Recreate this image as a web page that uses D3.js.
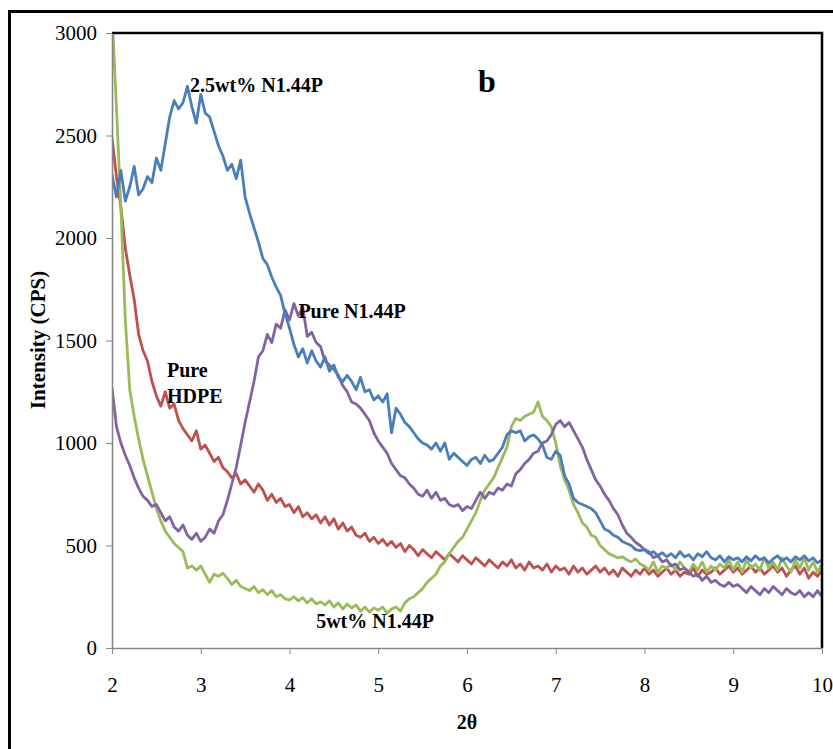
<!DOCTYPE html>
<html>
<head>
<meta charset="utf-8">
<script src="https://cdn.jsdelivr.net/npm/d3@7"></script>
<style>
  body { margin: 0; background: #fff; }
  svg { display: block; }
  text { font-family: "Liberation Serif", "Times New Roman", serif; fill: #000; }
</style>
</head>
<body>
<div id="chart"></div>
<script>
// 2-theta grid, 0.05 step
const twoTheta = d3.range(0, 161).map(i => +(2 + i * 0.05).toFixed(2));

const xTicks = [2, 3, 4, 5, 6, 7, 8, 9, 10];
const yTicks = [0, 500, 1000, 1500, 2000, 2500, 3000];

// 2.5wt% N1.44P
const blue = [
  2310, 2200, 2330, 2180, 2250, 2350, 2210, 2240, 2300, 2270,
  2390, 2330, 2460, 2590, 2670, 2630, 2660, 2740, 2640, 2560,
  2700, 2610, 2590, 2520, 2450, 2400, 2330, 2360, 2290, 2380,
  2200, 2120, 2050, 1980, 1900, 1870, 1810, 1760, 1720, 1630,
  1560, 1480, 1420, 1460, 1390, 1450, 1400, 1370, 1420, 1350,
  1380, 1320, 1300, 1330, 1300, 1260, 1320, 1250, 1260, 1210,
  1230, 1200, 1240, 1050, 1170, 1140, 1100, 1080, 1050, 1020,
  1000, 990, 970, 1000, 960, 1000, 920, 950, 930, 910,
  890, 920, 930, 900, 940, 910, 920, 950, 980, 1040,
  1060, 1050, 1060, 1010, 1030, 1040, 1020, 990, 930, 920,
  960, 940, 840, 800, 730, 710, 700, 690, 680, 660,
  620, 580, 570, 550, 540, 520, 510, 500, 480, 475,
  480, 460, 470, 450, 465, 445, 460, 440, 470, 445,
  455, 430, 460, 445, 470, 440, 430, 450, 420, 445,
  430, 440, 420, 445, 425, 450, 430, 440, 415, 435,
  450, 425, 440, 420, 445, 430, 450, 425, 440, 415,
  430
];

// Pure HDPE
const red = [
  2490, 2300, 2150, 1950, 1820, 1700, 1530, 1450, 1400, 1300,
  1230, 1180, 1250, 1170, 1190, 1110, 1070, 1040, 1010, 1060,
  970, 990, 950, 910, 930, 880, 860, 830, 850, 800,
  820, 790, 760, 800, 770, 720, 750, 710, 730, 690,
  700, 660, 690, 640, 660, 630, 650, 610, 640, 600,
  630, 580, 610, 570, 590, 550, 540, 560, 520, 540,
  510, 530, 500, 520, 490, 510, 470, 500, 480, 450,
  480, 460, 440, 470, 450, 430, 460, 440, 420, 450,
  430, 410, 440, 420, 400, 430, 410, 390, 420, 400,
  430, 390, 410, 380, 420, 390, 400, 380, 410, 370,
  400, 380, 390, 360, 400, 370, 390, 360, 380, 400,
  370, 390, 360, 380, 350, 390, 370, 350, 380, 360,
  390, 360, 380, 350, 370, 390, 360, 380, 350, 370,
  360, 390, 350, 380, 360, 370, 390, 360, 380, 400,
  370, 390, 360, 380, 400, 370, 390, 360, 380, 400,
  370, 390, 350, 380, 400, 360, 390, 340, 370, 350,
  380
];

// 5wt% N1.44P
const green = [
  3100, 2640, 2150, 1600, 1260, 1130, 1020, 920, 840, 760,
  680, 620, 570, 540, 510, 490, 470, 390, 400, 380,
  400, 360, 320, 360, 350, 365, 340, 310, 330, 300,
  290, 280, 300, 270, 285, 260, 280, 250, 260, 240,
  235, 250, 230, 245, 220, 240, 215, 225, 210, 230,
  200, 220, 190, 215, 195, 210, 180, 200, 175, 195,
  185, 200, 170, 190, 200, 180, 220, 240, 250, 270,
  290, 320, 340, 360, 400, 420, 460, 490, 520, 540,
  580, 620, 660, 720, 770, 800, 830, 880, 930, 980,
  1080, 1120, 1110, 1130, 1140, 1150, 1200, 1130, 1110, 1080,
  1000, 890, 820, 770, 700, 660, 610, 590, 550, 540,
  500, 480, 460, 450, 440, 445, 430, 420, 435, 410,
  400, 380, 420, 370, 400, 390, 410, 380, 420, 390,
  370, 410, 380, 420, 370, 400, 380, 410, 390, 430,
  380, 420, 370, 430, 390, 410, 380, 440, 390, 420,
  380, 440, 400, 370, 430, 390, 440, 380, 420, 370,
  410
];

// Pure N1.44P
const purple = [
  1270, 1080, 1000, 940, 890, 830, 780, 740, 720, 690,
  700, 660, 620, 640, 590, 570, 600, 550, 530, 560,
  520, 540, 580, 560, 620, 650, 720, 800, 880, 990,
  1100, 1200, 1300, 1420, 1450, 1530, 1490, 1580, 1560, 1650,
  1600, 1680, 1620, 1660, 1520, 1540, 1490, 1470, 1400, 1380,
  1360, 1330, 1280, 1250, 1200, 1190, 1170, 1140, 1110, 1050,
  1010, 980, 950, 900, 870, 840, 830, 800, 780, 750,
  740, 770, 730, 760, 720, 730, 700, 690, 700, 670,
  690, 680, 720, 760, 730, 760, 750, 780, 770, 800,
  790, 850, 870, 900, 920, 950, 960, 1000, 1010, 1040,
  1090, 1110, 1080, 1100, 1060, 1020, 980, 920, 870, 820,
  790, 750, 720, 680, 650, 600, 560, 540, 515, 500,
  480, 470, 440, 450, 420, 430, 400, 410, 380, 390,
  370, 350, 360, 330, 350, 320, 330, 310, 300, 320,
  300, 310, 290, 270, 300, 280, 260, 290, 270, 300,
  280, 260, 290, 270, 260, 280, 250, 270, 250, 280,
  250
];

const seriesList = [
  { name: "Pure HDPE", values: red, color: "#c0504d" },
  { name: "5wt% N1.44P", values: green, color: "#9bbb59" },
  { name: "Pure N1.44P", values: purple, color: "#8064a2" },
  { name: "2.5wt% N1.44P", values: blue, color: "#4a7ebb" }
];

const labels = [
  { text: "2.5wt% N1.44P", t: 2.88, v: 2710 },
  { text: "Pure N1.44P", t: 4.1, v: 1610 },
  { text: "Pure", t: 2.62, v: 1320 },
  { text: "HDPE", t: 2.62, v: 1195 },
  { text: "5wt% N1.44P", t: 4.3, v: 100 }
];

const W = 833, H = 749;
const svg = d3.select("#chart").append("svg")
  .attr("width", W).attr("height", H);

const x = d3.scaleLinear().domain([2, 10]).range([112, 822]);
const y = d3.scaleLinear().domain([0, 3000]).range([648, 33]);

// outer frame
svg.append("path")
  .attr("d", "M9.5,749 L9.5,11.5 L833,11.5")
  .attr("fill", "none").attr("stroke", "#000").attr("stroke-width", 3);

svg.append("clipPath").attr("id", "clip")
  .append("rect").attr("x", 112).attr("y", 33).attr("width", 710).attr("height", 615);

const line = d3.line()
  .x((d, i) => x(twoTheta[i]))
  .y(d => y(d));

svg.append("g").attr("clip-path", "url(#clip)")
  .selectAll("path")
  .data(seriesList)
  .join("path")
  .attr("d", d => line(d.values))
  .attr("fill", "none")
  .attr("stroke", d => d.color)
  .attr("stroke-width", 2.8)
  .attr("stroke-linejoin", "round");

// top and right plot border
svg.append("path")
  .attr("d", `M${x(2)},${y(3000)} L${x(10)},${y(3000)} L${x(10)},${y(0)}`)
  .attr("fill", "none").attr("stroke", "#000").attr("stroke-width", 2.5);

// axes
const xAxis = svg.append("g")
  .attr("transform", `translate(0,${y(0)})`)
  .call(d3.axisBottom(x).tickValues(xTicks).tickFormat(d3.format("d"))
    .tickSize(6).tickSizeOuter(0).tickPadding(23));
const yAxis = svg.append("g")
  .attr("transform", `translate(${x(2)},0)`)
  .call(d3.axisLeft(y).tickValues(yTicks).tickFormat(d3.format("d"))
    .tickSize(6).tickSizeOuter(0).tickPadding(9));

[xAxis, yAxis].forEach(g => {
  g.attr("font-family", null).attr("font-size", null);
  g.select(".domain").attr("stroke", "#868686").attr("stroke-width", 1.6);
  g.selectAll(".tick line").attr("stroke", "#868686").attr("stroke-width", 1);
  g.selectAll("text")
    .style("font-family", "'Liberation Serif', 'Times New Roman', serif")
    .style("font-size", "21px").attr("fill", "#000");
});

// axis titles
svg.append("text")
  .attr("x", 467).attr("y", 729)
  .attr("text-anchor", "middle")
  .attr("font-weight", "bold").attr("font-size", 20)
  .text("2θ");

svg.append("text")
  .attr("transform", "translate(45,340) rotate(-90)")
  .attr("text-anchor", "middle")
  .attr("font-weight", "bold").attr("font-size", 21)
  .text("Intensity (CPS)");

// panel letter
svg.append("text")
  .attr("x", 487).attr("y", 92)
  .attr("text-anchor", "middle")
  .attr("font-weight", "bold").attr("font-size", 32)
  .text("b");

// series labels
svg.append("g").selectAll("text")
  .data(labels)
  .join("text")
  .attr("x", d => x(d.t))
  .attr("y", d => y(d.v))
  .attr("font-weight", "bold")
  .attr("font-size", 20)
  .text(d => d.text);
</script>
</body>
</html>
